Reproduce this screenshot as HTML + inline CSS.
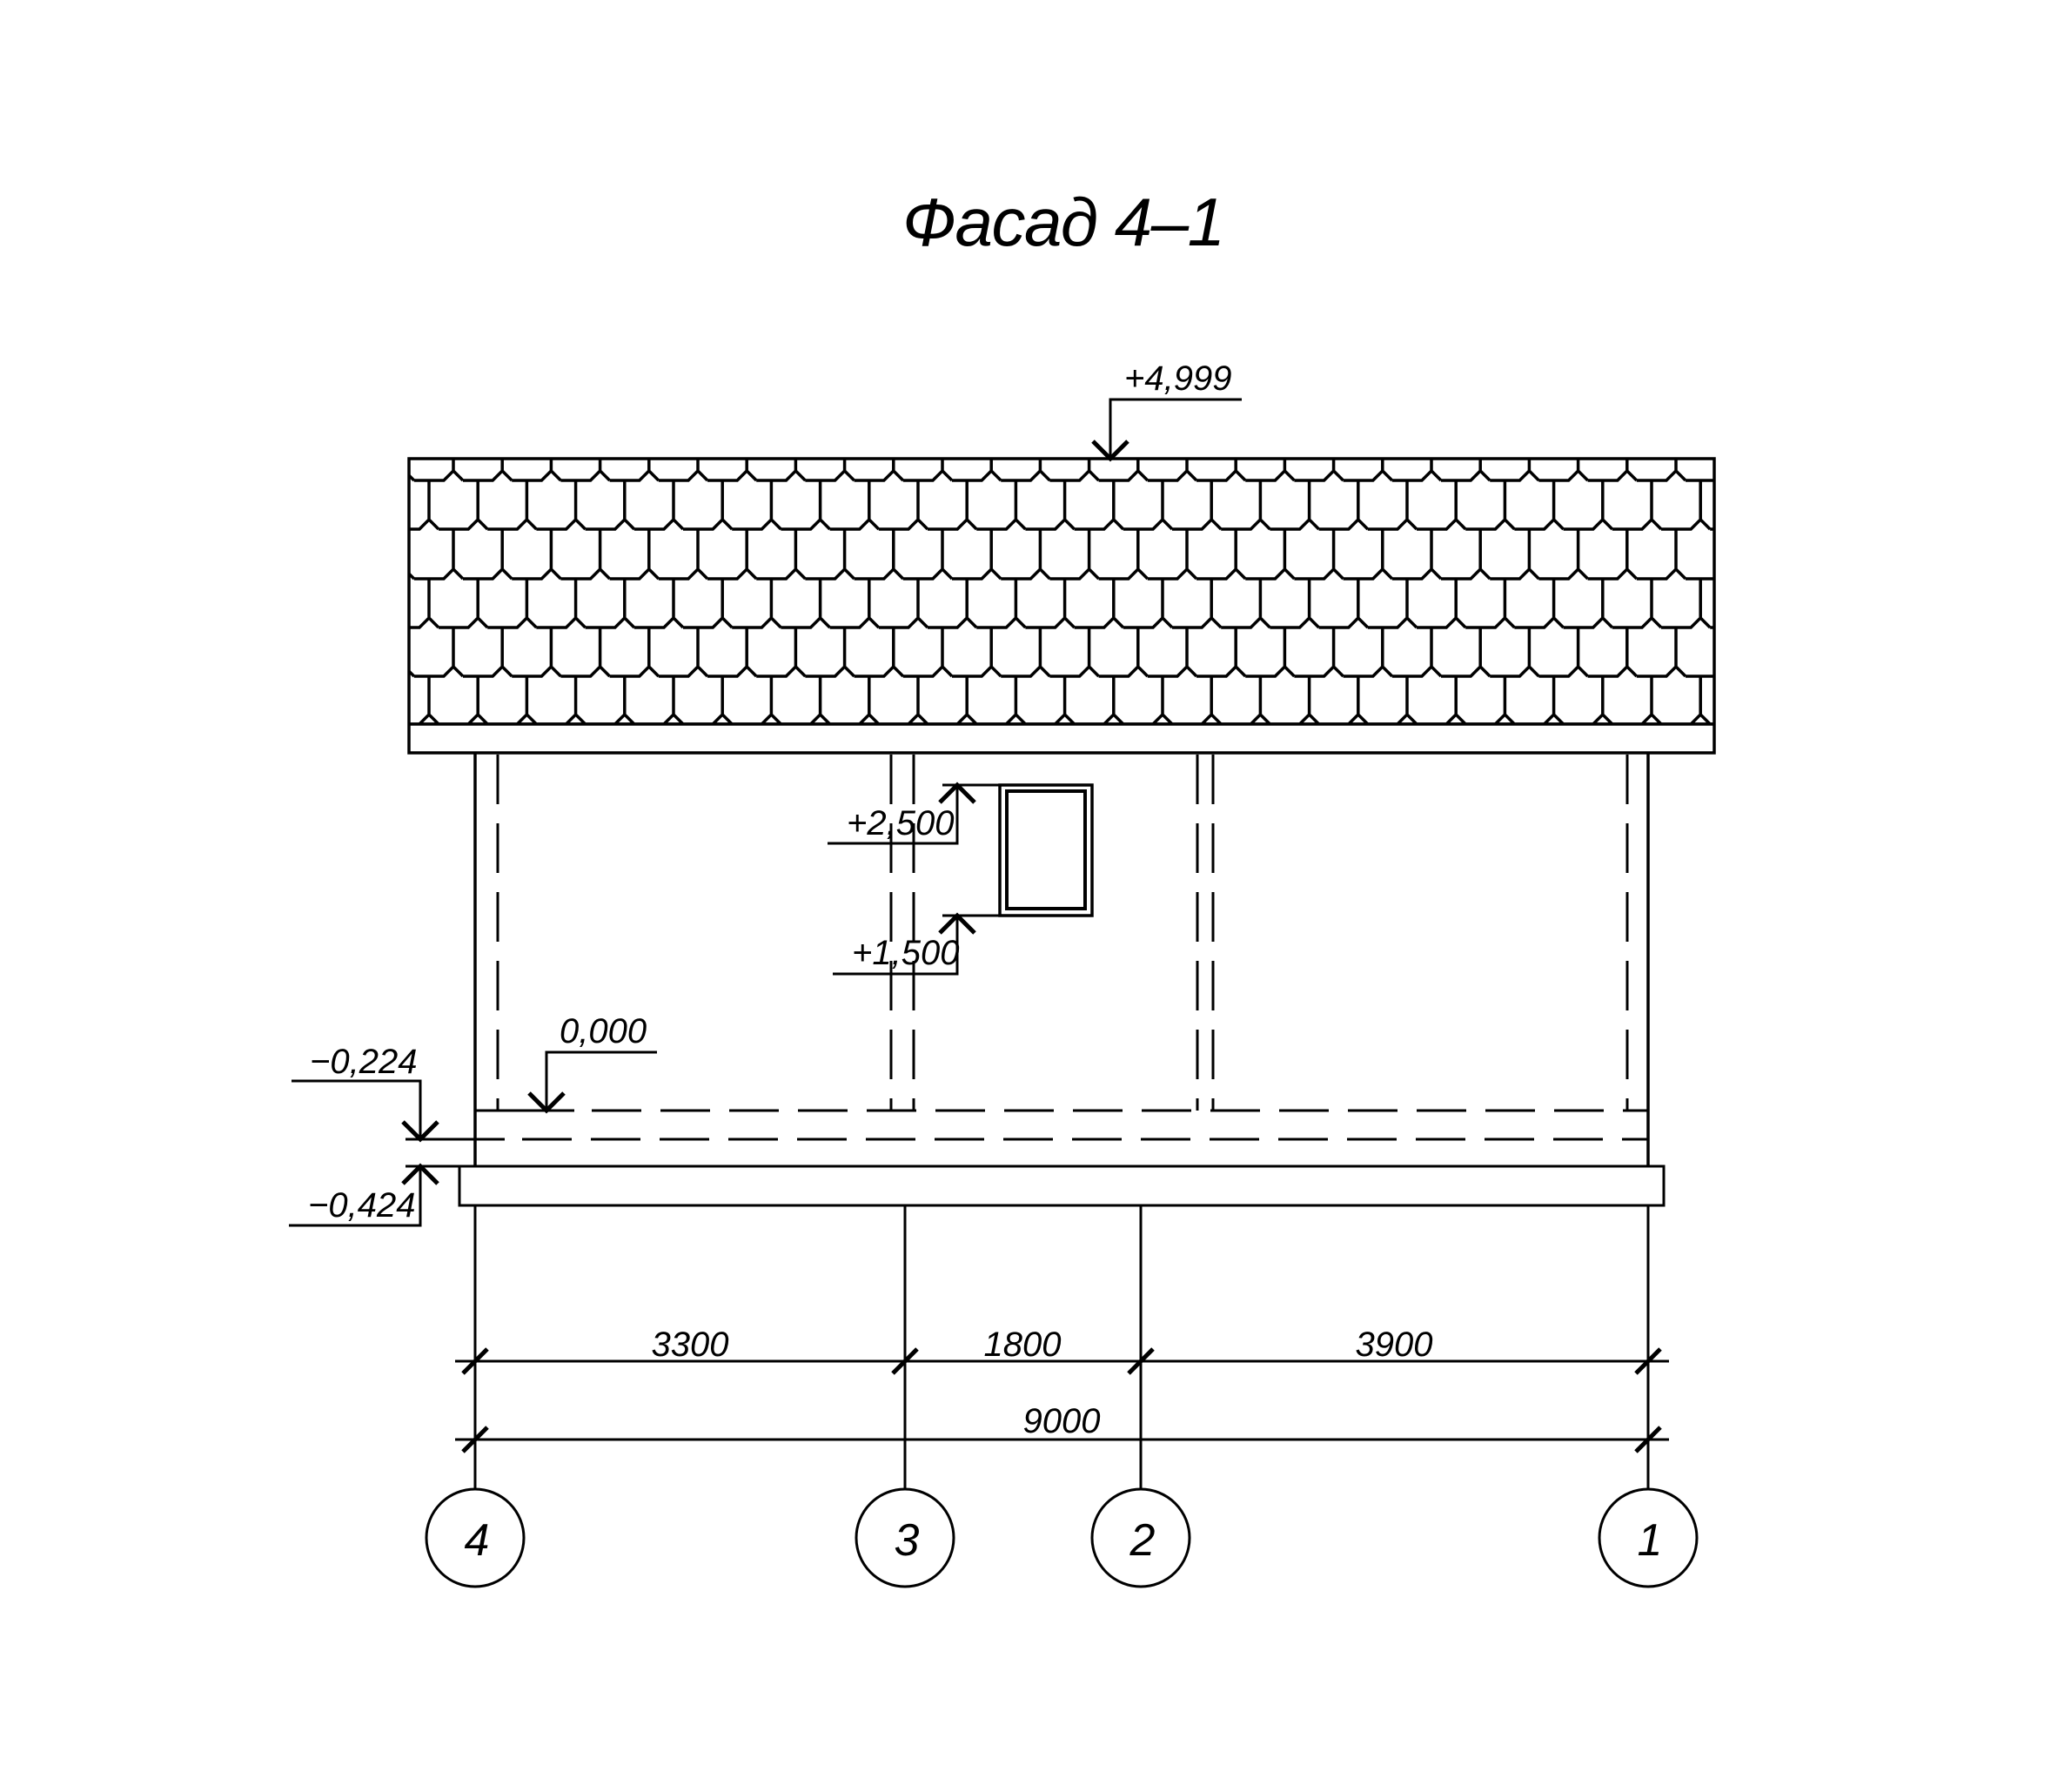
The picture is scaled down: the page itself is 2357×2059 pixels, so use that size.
<!DOCTYPE html>
<html><head><meta charset="utf-8"><style>
html,body{margin:0;padding:0;background:#fff;}
svg{display:block;}
text{font-family:"Liberation Sans",sans-serif;font-style:italic;fill:#000;}
</style></head><body>
<svg id="s" width="2357" height="2059" viewBox="0 0 2357 2059" xmlns="http://www.w3.org/2000/svg">
<defs><clipPath id="rc"><rect x="470" y="527" width="1500" height="305"/></clipPath></defs>
<g fill="none" stroke="#000" stroke-width="3.5" stroke-linecap="butt">
<g id="sh" clip-path="url(#rc)"></g>
<rect x="470" y="527" width="1500" height="338"/>
<line x1="470" y1="832" x2="1970" y2="832"/>
<rect x="1149" y="902" width="106" height="150"/>
<rect x="1157" y="909" width="90" height="135" stroke-width="4"/>
<line x1="1083" y1="902" x2="1149" y2="902" stroke-width="3"/>
<line x1="1083" y1="1052" x2="1149" y2="1052" stroke-width="3"/>
<line x1="546" y1="865" x2="546" y2="1340"/>
<line x1="1894" y1="865" x2="1894" y2="1340"/>
<g stroke-dasharray="57 22" stroke-width="3">
<line x1="572" y1="867" x2="572" y2="1276"/>
<line x1="1024" y1="867" x2="1024" y2="1276"/>
<line x1="1050" y1="867" x2="1050" y2="1276"/>
<line x1="1376" y1="867" x2="1376" y2="1276"/>
<line x1="1394" y1="867" x2="1394" y2="1276"/>
<line x1="1870" y1="867" x2="1870" y2="1276"/>
<line x1="660" y1="1276" x2="1894" y2="1276" stroke-dashoffset="-20"/>
<line x1="580" y1="1309" x2="1894" y2="1309" stroke-dashoffset="-20"/>
</g>
<line x1="546" y1="1276" x2="660" y2="1276" stroke-width="3"/>
<line x1="466" y1="1309" x2="580" y2="1309" stroke-width="3"/>
<line x1="466" y1="1340" x2="1894" y2="1340" stroke-width="3"/>
<rect x="528" y="1340" width="1384" height="45" stroke-width="3"/>
<g stroke-width="3">
<line x1="546" y1="1385" x2="546" y2="1710"/>
<line x1="1040" y1="1385" x2="1040" y2="1710"/>
<line x1="1311" y1="1385" x2="1311" y2="1710"/>
<line x1="1894" y1="1385" x2="1894" y2="1710"/>
<circle cx="546" cy="1767" r="56"/>
<circle cx="1040" cy="1767" r="56"/>
<circle cx="1311" cy="1767" r="56"/>
<circle cx="1894" cy="1767" r="56"/>
<line x1="523" y1="1564" x2="1918" y2="1564"/>
<line x1="523" y1="1654" x2="1918" y2="1654"/>
</g>
<g stroke-width="5">
<line x1="532" y1="1578" x2="560" y2="1550"/>
<line x1="1026" y1="1578" x2="1054" y2="1550"/>
<line x1="1297" y1="1578" x2="1325" y2="1550"/>
<line x1="1880" y1="1578" x2="1908" y2="1550"/>
<line x1="532" y1="1668" x2="560" y2="1640"/>
<line x1="1880" y1="1668" x2="1908" y2="1640"/>
</g>
<g stroke-width="3">
<polyline points="1427,459 1276,459 1276,527"/>
<polyline points="951,969 1100,969 1100,902"/>
<polyline points="957,1119 1100,1119 1100,1052"/>
<polyline points="755,1209 628,1209 628,1276"/>
<polyline points="335,1242 483,1242 483,1309"/>
<polyline points="332,1408 483,1408 483,1340"/>
</g>
<g stroke-width="5">
<polyline points="1256,507 1276,527 1296,507"/>
<polyline points="1080,922 1100,902 1120,922"/>
<polyline points="1080,1072 1100,1052 1120,1072"/>
<polyline points="608,1256 628,1276 648,1256"/>
<polyline points="463,1289 483,1309 503,1289"/>
<polyline points="463,1360 483,1340 503,1360"/>
</g>
</g>
<text x="1037" y="282" font-size="78" textLength="371" lengthAdjust="spacing">Фасад 4–1</text>
<g font-size="40">
<text x="1292" y="448">+4,999</text>
<text x="973" y="959">+2,500</text>
<text x="979" y="1108">+1,500</text>
<text x="643" y="1198">0,000</text>
<text x="356" y="1233">−0,224</text>
<text x="354" y="1398">−0,424</text>
<text x="793" y="1558" text-anchor="middle">3300</text>
<text x="1175" y="1558" text-anchor="middle">1800</text>
<text x="1602" y="1558" text-anchor="middle">3900</text>
<text x="1220" y="1646" text-anchor="middle">9000</text>
</g>
<g font-size="52" text-anchor="middle">
<text x="548" y="1787">4</text>
<text x="1042" y="1787">3</text>
<text x="1313" y="1787">2</text>
<text x="1896" y="1787">1</text>
</g>
</svg>
<script>
(function(){
var L=[527,552,608,665,721,777,832],p=56.2,d="";
for(var k=0;k<6;k++){
 var x0=(k%2==0)?521:493, top=L[k], b=L[k+1];
 var xs=[];for(var x=x0-p*2;x<2000;x+=p)xs.push(x);
 if(k==5){d+="M460 "+b+"H1980";}
 var prev=440;
 for(var i=0;i<xs.length;i++){
  var x=xs[i];
  d+="M"+x.toFixed(1)+" "+top+"V"+(b-11);
  if(k<5){d+="M"+prev.toFixed(1)+" "+b+"H"+(x-11).toFixed(1)+"L"+x.toFixed(1)+" "+(b-11)+"L"+(x+11).toFixed(1)+" "+b;prev=x+11;}
  else{d+="M"+(x-11).toFixed(1)+" "+b+"L"+x.toFixed(1)+" "+(b-11)+"L"+(x+11).toFixed(1)+" "+b;}
 }
 if(k<5)d+="M"+prev.toFixed(1)+" "+b+"H1990";
}
var e=document.createElementNS("http://www.w3.org/2000/svg","path");
e.setAttribute("d",d);document.getElementById("sh").appendChild(e);
})();
</script>
</body></html>
